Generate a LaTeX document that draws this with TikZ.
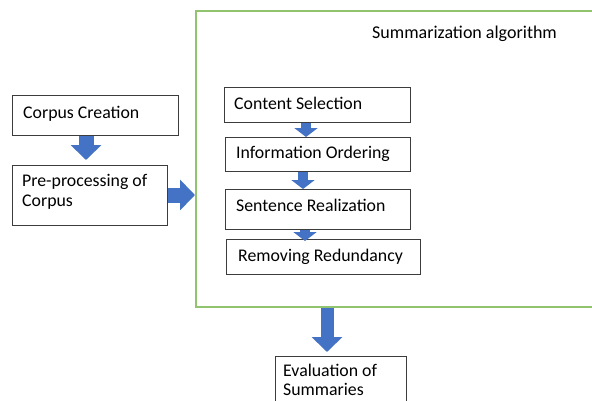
\documentclass[tikz,border=0pt]{standalone}
\usepackage{fontspec}
\setmainfont{Carlito}
\usetikzlibrary{arrows.meta}
\definecolor{boxline}{RGB}{60,60,60}
\definecolor{grn}{RGB}{146,196,112}
\definecolor{arrblue}{RGB}{68,114,196}
\tikzset{
  stepbox/.style={draw=boxline, line width=0.9pt, rectangle, inner sep=0pt, anchor=north west},
  steptext/.style={inner sep=0pt, anchor=base west, align=left, font=\fontsize{17.8}{20}\selectfont},
  bigarrow/.style={draw=arrblue, line width=15pt, -{Triangle[width=30pt,length=15pt]}},
  smallarrow/.style={draw=arrblue, line width=10pt, -{Triangle[width=23pt,length=9pt]}},
}
\begin{document}
\begin{tikzpicture}[x=1pt,y=-1pt]
\useasboundingbox (0,0) rectangle (592,400);
\begin{scope}
\clip (0,0) rectangle (592,400);
% green container
\node[draw=grn, line width=1.5pt, minimum width=410pt, minimum height=296pt, anchor=north west, inner sep=0pt] (alg) at (195,10) {};
\node[steptext, font=\fontsize{18}{20}\selectfont] (title) at (372,38.5) {Summarization algorithm};

% boxes
\node[stepbox, minimum width=166pt, minimum height=40pt] (cc) at (12,95) {};
\node[stepbox, minimum width=155pt, minimum height=60pt] (pp) at (12,165) {};
\node[stepbox, minimum width=186pt, minimum height=35pt] (cs) at (224,87) {};
\node[stepbox, minimum width=185pt, minimum height=34pt] (io) at (225,137) {};
\node[stepbox, minimum width=185pt, minimum height=40pt] (sr) at (225,189) {};
\node[stepbox, minimum width=194pt, minimum height=35pt] (rr) at (226,239) {};
\node[stepbox, minimum width=131pt, minimum height=60pt] (ev) at (275,356) {};

% texts
\node[steptext] (cct) at (23,118) {Corpus Creation};
\node[steptext] (ppt) at (22,206) {Pre-processing of\\Corpus};
\node[steptext] (cst) at (234,109) {Content Selection};
\node[steptext] (iot) at (236,158.5) {Information Ordering};
\node[steptext] (srt) at (236,211) {Sentence Realization};
\node[steptext] (rrt) at (238,261) {Removing Redundancy};
\node[steptext, font=\fontsize{17.8}{19.5}\selectfont] (evt) at (283,395.5) {Evaluation of\\Summaries};

% arrows
\draw[bigarrow] (cc.south -| 86,0) -- (86,160);
\draw[bigarrow] (pp.east |- 0,195) -- (alg.west |- 0,195);
\draw[smallarrow] (cs.south -| 306,0) -- (io.north -| 306,0);
\draw[smallarrow] (io.south -| 303,0) -- (sr.north -| 303,0);
\draw[smallarrow] (sr.south -| 305,0) -- (305,241);
\draw[bigarrow, line width=13pt] (alg.south -| 327,0) -- (327,352);
\end{scope}
\end{tikzpicture}
\end{document}
